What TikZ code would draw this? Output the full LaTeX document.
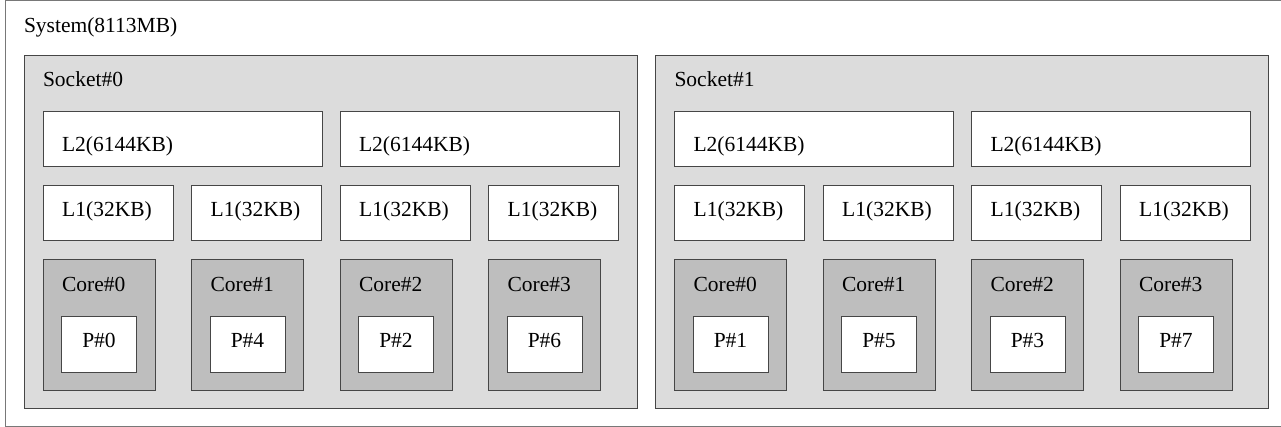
\documentclass[tikz,border=0pt]{standalone}
\usepackage{fontspec}
\setmainfont{Liberation Serif}
\definecolor{sockfill}{RGB}{220,220,220}
\definecolor{corefill}{RGB}{190,190,190}
\definecolor{edgecol}{RGB}{70,70,70}
\definecolor{sysedge}{RGB}{120,120,120}
\begin{document}
\begin{tikzpicture}[x=1pt,y=-1pt,
  every node/.style={inner sep=0pt,outer sep=0pt},
  sysbox/.style={draw=sysedge,line width=1pt,fill=white,anchor=north west,minimum width=1285pt,minimum height=425.5pt},
  sockbox/.style={draw=edgecol,line width=1pt,fill=sockfill,anchor=north west,minimum width=613pt,minimum height=352pt},
  cachebox/.style={draw=edgecol,line width=1pt,fill=white,anchor=north west,minimum height=55pt},
  corebox/.style={draw=edgecol,line width=1pt,fill=corefill,anchor=north west,minimum width=112pt,minimum height=130pt},
  pubox/.style={draw=edgecol,line width=1pt,fill=white,anchor=north west,minimum width=75pt,minimum height=56pt},
  lbl/.style={font=\fontsize{21.5}{24}\selectfont,anchor=base west},
  clbl/.style={font=\fontsize{21.5}{24}\selectfont,anchor=base}]
\clip (0,0) rectangle (1281,427);
\node[sysbox] (sys) at (5.5,0.5) {};
\node[lbl] (syst) at (24,33) {System(8113MB)};
\foreach \s/\sx in {0/24,1/655.5} {
  \node[sockbox] (s\s) at (\sx,56) {};
  \node[lbl] (s\s-t) at (\sx+19,87) {Socket\#\s};
  \foreach \l/\lx in {a/19,b/316} {
    \node[cachebox,minimum width=279pt] (s\s-l2\l) at (\sx+\lx,112) {};
    \node[lbl] (s\s-l2\l-t) at (\sx+\lx+19,152) {L2(6144KB)};
  }
  \foreach \c/\cx in {0/19,1/167.5,2/316,3/464.5} {
    \pgfmathtruncatemacro\pn{4*mod(\c,2)+2*int(\c/2)+\s}
    \node[cachebox,minimum width=130pt] (s\s-l1\c) at (\sx+\cx,186) {};
    \node[clbl] (s\s-l1\c-t) at (\sx+\cx+64,217) {L1(32KB)};
    \node[corebox] (s\s-c\c) at (\sx+\cx,260) {};
    \node[lbl] (s\s-c\c-t) at (\sx+\cx+19,292) {Core\#\c};
    \node[pubox] (s\s-p\c) at (\sx+\cx+18.5,316) {};
    \node[clbl] (s\s-p\c-t) at (\sx+\cx+56,347) {P\#\pn};
  }
}
\end{tikzpicture}
\end{document}
